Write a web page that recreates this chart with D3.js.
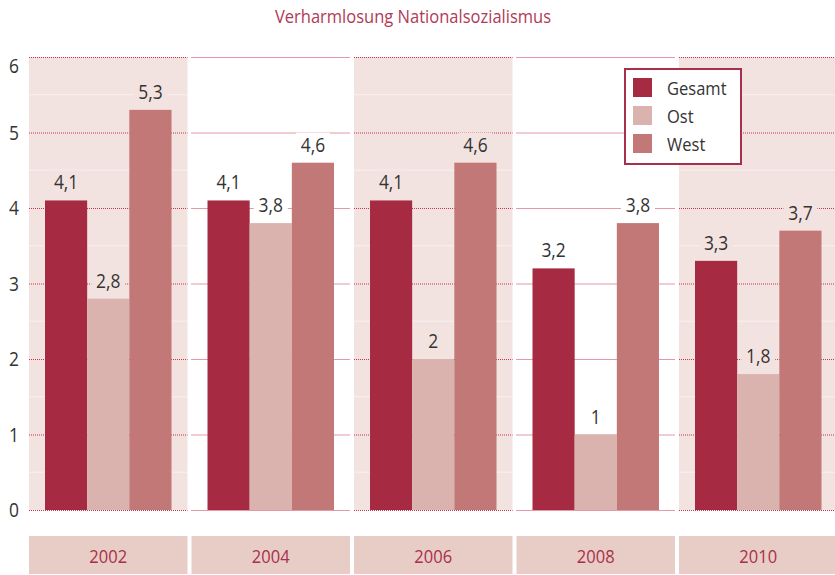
<!DOCTYPE html>
<html lang="de">
<head>
<meta charset="UTF-8">
<style>
  body { margin: 0; background: #fff; }
  svg text { font-family: "Open Sans", "Noto Sans", sans-serif; }
</style>
<script src="https://cdn.jsdelivr.net/npm/d3@7"></script>
</head>
<body>
<div id="chart"></div>
<script>
// data
const years = ['2002', '2004', '2006', '2008', '2010'];
const series = ['Gesamt', 'Ost', 'West'];
const gesamt = [4.1, 4.1, 4.1, 3.2, 3.3];
const ost = [2.8, 3.8, 2, 1, 1.8];
const west = [5.3, 4.6, 4.6, 3.8, 3.7];
const yTicks = [0, 1, 2, 3, 4, 5, 6];
const title = 'Verharmlosung Nationalsozialismus';

const values = [gesamt, ost, west];
const colors = ['#a52a42', '#dbb3ae', '#c27876'];
const shade = '#f3e3e0';
const narrow = 0.87; // fake a condensed face

const width = 835, height = 575;
const svg = d3.select('#chart').append('svg')
  .attr('width', width).attr('height', height);

// condensed text helper
function label(parent, x, y, txt, size, fill, anchor) {
  return parent.append('text')
    .attr('transform', `translate(${x},${y}) scale(${narrow},1)`)
    .attr('text-anchor', anchor || 'middle')
    .attr('fill', fill)
    .style('font-size', size + 'px')
    .text(txt);
}

const x = d3.scaleBand().domain(years)
  .range([29, 29 + 162.5 * 5 - 4])
  .paddingInner(4 / 162.5).paddingOuter(0);
const xs = d3.scaleBand().domain(series).range([16, x.bandwidth() - 16]);
const y = d3.scaleLinear().domain([0, 6]).range([510, 57]);

// title
label(svg, 413, 23, title, 19, '#b03a55');

// group backgrounds
const groups = svg.selectAll('g.year').data(years).enter()
  .append('g').attr('class', 'year')
  .attr('transform', d => `translate(${x(d)},0)`);

groups.append('rect')
  .attr('x', 0).attr('y', y(6))
  .attr('width', x.bandwidth()).attr('height', y(0) - y(6))
  .attr('fill', (d, i) => i % 2 === 0 ? shade : '#fff');

// faint half lines
groups.filter((d, i) => i % 2 === 0).selectAll('line.half')
  .data(yTicks.slice(0, -1)).enter().append('line')
  .attr('x1', 0).attr('x2', x.bandwidth())
  .attr('y1', d => y(d + 0.5)).attr('y2', d => y(d + 0.5))
  .attr('stroke', '#f9f0ee').attr('stroke-width', 1);

// grid lines
groups.selectAll('line.grid').data(yTicks).enter().append('line')
  .attr('class', 'grid')
  .attr('x1', 0).attr('x2', x.bandwidth())
  .attr('y1', d => y(d) + 0.5).attr('y2', d => y(d) + 0.5)
  .attr('stroke', '#c8334f').attr('stroke-width', 1)
  .attr('stroke-dasharray', '1,1');

// y axis labels
yTicks.forEach(t => {
  label(svg, 19, Math.max(y(t), 66) + 7, t, 20, '#333', 'end');
});

// bars
const fmt = v => String(v).replace('.', ',');
groups.each(function (yr, i) {
  const g = d3.select(this);
  const bg = i % 2 === 0 ? shade : '#fff';
  series.forEach((s, j) => {
    const v = values[j][i];
    g.append('rect')
      .attr('x', xs(s)).attr('width', xs.bandwidth())
      .attr('y', y(v)).attr('height', y(0) - y(v))
      .attr('fill', colors[j]);
    const cx = xs(s) + xs.bandwidth() / 2;
    g.append('rect')
      .attr('x', cx - 17).attr('y', y(v) - 30)
      .attr('width', 34).attr('height', 23)
      .attr('fill', bg);
    label(g, cx, y(v) - 11, fmt(v), 20, '#333');
  });
});

// category boxes
groups.append('rect')
  .attr('x', 0).attr('y', 536)
  .attr('width', x.bandwidth()).attr('height', 38)
  .attr('fill', '#e8cdc6');
groups.each(function (d) {
  label(d3.select(this), x.bandwidth() / 2, 563, d, 19, '#a8304a');
});

// legend
const legend = svg.append('g').attr('transform', 'translate(625,69)');
legend.append('rect')
  .attr('width', 116).attr('height', 95)
  .attr('fill', '#fff')
  .attr('stroke', '#a8304a').attr('stroke-width', 2);
series.forEach((s, i) => {
  legend.append('rect')
    .attr('x', 8).attr('y', 9 + i * 28)
    .attr('width', 19).attr('height', 19)
    .attr('fill', colors[i]);
  label(legend, 42, 26 + i * 28, s, 19, '#333', 'start');
});
</script>
</body>
</html>
